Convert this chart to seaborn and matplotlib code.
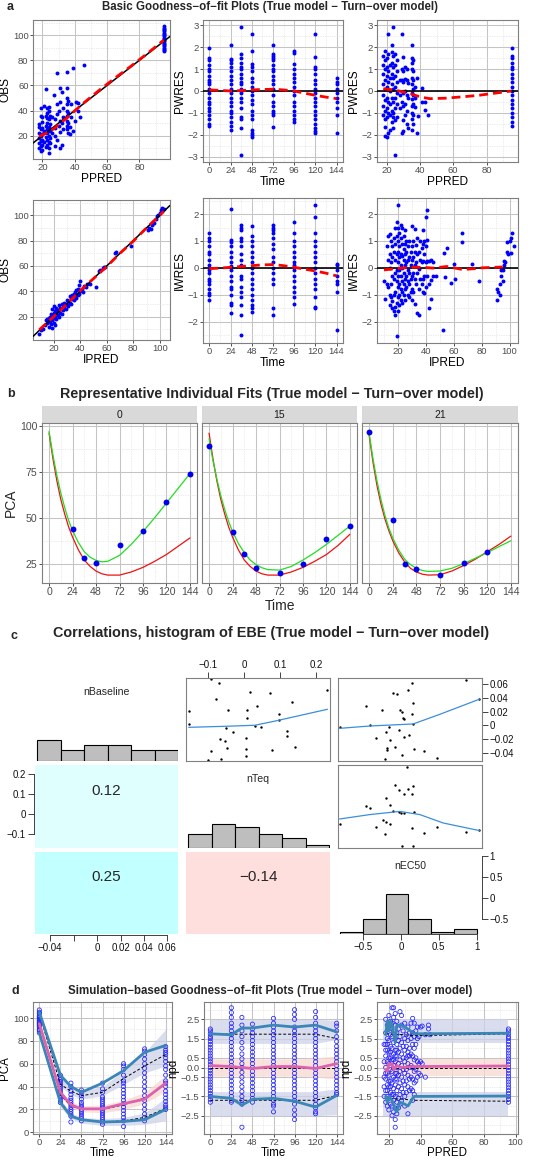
import numpy as np
import matplotlib
matplotlib.use("Agg")
import matplotlib.pyplot as plt
import seaborn as sns

# ---------------- DATA ----------------
# Panel a1: OBS vs PPRED
a1_ppred = [18,19,20,21,22,23,24,25,26,27,28,29,30,31,32,33,35,36,37,38,39,40,41,42,43,46,95]
a1_obs = [[10,14,18,22,27,29],[8,12,16,20,25,36,42],[9,13,17,21,26,31,35],[15,24,44],
          [11,19,28,36,57],[13,17,22,25,30,34,38,42],[6,10,15,20,27,33,40,43],[14,18,24,29,36],
          [22,35],[52],[12,20,26,33],[17,37,45,70],[28,40],[10,23,32,47,58],[13,30,55],[25,35,42],
          [25,28,32,36,40,45,50,58,71],[22,30,38,48],[21,27],[35,45],[24,74],[32],[47],[40,46],[35],[76],
          [87,88,89,90,91,92,93,94,95,96,97,98,99,100,101,102,103,104,105,106,107]]
a1_loess_x = [18,25,35,45,55,65,75,85,95]
a1_loess_y = [19.5,23.5,34,45.5,56,66,75.5,85.5,96]

# Panel a2: PWRES vs Time
times = [0,24,36,48,72,96,120,144]
a2_pwres = [[1.95,1.5,1.4,1.2,1.0,0.9,0.7,0.5,0.4,0.3,0.1,-0.1,-0.3,-0.5,-0.6,-0.8,-0.9,-1.1,-1.3,-1.5,-1.6],
            [2.1,1.45,1.4,1.3,1.1,0.9,0.7,0.5,0.3,0.1,-0.1,-0.3,-0.5,-0.7,-0.9,-1.0,-1.2,-1.4,-1.6,-1.8],
            [2.95,1.7,1.5,1.3,1.1,1.0,0.8,0.6,0.4,0.3,0.1,0,-0.1,-0.3,-0.5,-0.8,-1.2,-1.3,-1.7,-2.95],
            [2.6,1.85,1.25,1.1,0.9,0.6,0.4,0.2,0,-0.2,-0.4,-0.6,-0.9,-1.1,-1.3,-1.8,-1.9,-2.0,-2.1],
            [2.1,1.7,1.6,1.5,1.4,1.2,1.0,0.9,0.7,0.5,0.3,0.1,-0.2,-0.5,-0.7,-0.9,-1.0,-1.1,-1.65],
            [1.85,1.75,1.25,1.0,0.8,0.6,0.4,0.2,0,-0.2,-0.5,-0.7,-0.9,-1.1,-1.3,-1.4],
            [2.6,1.55,1.1,1.0,0.8,0.5,0.3,0.1,-0.1,-0.3,-0.5,-0.7,-0.9,-1.1,-1.3,-1.5,-1.7,-1.85,-1.9],
            [0.6,0.4,0.3,0.1,-0.1,-0.3,-0.5,-0.8,-1.1,-1.9]]
a2_loess_x = [0,12,24,36,48,60,72,84,96,108,120,132,144]
a2_loess_y = [0.05,0.03,0,0.02,0.05,0.07,0.08,0.05,0,-0.1,-0.2,-0.28,-0.35]

# Panel a3: PWRES vs PPRED
a3_ppred = [18,19,20,21,22,23,24,25,26,28,29,30,31,32,33,35,36,37,38,39,41,43,45,95]
a3_pwres = [[1.6,1.2,0.8,0.3,-0.2,-0.7,-1.1],[1.85,1.4,1.0,0.5,0.1,-0.4,-0.9,-1.3,-1.65,-2.05],
            [1.5,1.1,0.7,0.2,-0.3,-0.8,-1.2,-2.1],[2.6,1.7,0.9,0.4,-0.5,-1.0,-1.9],[1.2,0.6,0,-0.6,-1.1,-1.8],
            [2.1,1.8,1.3,0.8,0.3,-0.3,-0.9,-1.4],[2.95,1.6,1.1,0.6,0.1,-0.5,-1.0,-1.2,-1.7],
            [1.7,1.2,0.7,0.2,-0.3,-0.8,-1.35,-2.95],[1.4,0.9,0.4,-0.1,-0.6,-1.2],[0.5,-0.2,-0.8],
            [2.6,1.0,0.5,-0.5,-1.9],[1.55,0.9,0.4,-0.1,-0.7,-1.35,-1.85],[1.1,0.55,0,-0.6,-1.1],
            [1.0,0.5,-0.2,-0.9,-1.5],[0.35,-0.3,-1.7],[2.1,1.5,1.3,1.0,0.6,0.3,-0.1,-0.35,-0.7,-1.0,-1.3,-1.8],
            [1.4,0.9,0.5,0.1,-0.2,-0.6,-1.1,-1.5],[0.2,-0.3,-0.75],[0.6,-1.9],[-1.15],[0.15,-0.5],
            [-0.5,-0.85],[-1.1],
            [1.95,1.6,1.5,1.3,1.1,1.0,0.8,0.6,0.4,0.2,0,-0.2,-0.4,-0.6,-0.8,-1.0,-1.2,-1.4,-1.6]]
a3_loess_x = [18,22,26,30,34,38,42,46,55,65,75,85,95]
a3_loess_y = [0.1,0.07,0.03,-0.05,-0.12,-0.22,-0.3,-0.35,-0.33,-0.27,-0.2,-0.1,0]

# Panel a4: OBS vs IPRED
a4_ipred = [9,10,12,13,14,15,15,16,16,17,17,18,18,18,19,19,19,19,20,20,20,20,21,21,21,22,22,22,23,23,
            24,24,24,25,25,26,26,26,27,27,28,28,29,29,30,30,31,31,32,32,33,33,34,34,35,35,36,36,37,37,
            38,38,39,39,40,40,41,42,43,44,45,47,52,54,55,57,58,59,66,67,78,91,92,93,94,95,96,97,98,99,
            100,101,102,103]
a4_obs = [6,9,10,13,17,15,18,12,19,16,20,14,18,22,11,17,21,26,15,19,23,28,13,20,24,18,22,27,21,25,
          20,24,29,23,27,22,26,30,25,29,27,31,26,30,29,33,28,32,31,36,30,35,34,37,33,38,36,39,35,41,
          37,42,38,45,40,48,42,39,44,43,46,46,43,56,57,58,59,59,70,71,76,88,90,89,92,95,94,97,99,100,
          102,104,106,105]
a4_loess_x = [9,20,30,40,50,60,70,80,90,103]
a4_loess_y = [9.5,20,30,40.5,50,59.5,70,79.5,90,103]

# Panel a5: IWRES vs Time
a5_iwres = [[1.3,1.1,1.0,0.8,0.6,0.5,0.3,0.1,-0.1,-0.2,-0.4,-0.5,-0.6,-0.8,-0.95,-1.0,-1.2],
            [2.2,1.05,0.95,0.8,0.6,0.4,0.2,0.05,-0.1,-0.3,-0.5,-0.7,-0.8,-1.0,-1.3,-1.4,-1.7],
            [1.6,1.5,1.4,1.1,1.0,0.8,0.5,0.3,0.1,-0.3,-0.4,-0.7,-0.9,-1.1,-1.4,-1.75,-2.5],
            [1.55,1.2,1.0,0.8,0.6,0.4,0.2,0,-0.2,-0.4,-0.6,-0.8,-1.0,-1.2,-1.4,-1.5,-1.65],
            [1.6,1.5,1.4,1.3,1.1,0.9,0.7,0.4,0.2,0,-0.2,-0.4,-0.6,-1.5,-1.75],
            [1.7,1.3,1.0,0.8,0.6,0.4,0.2,0.1,-0.1,-0.3,-0.5,-0.7,-0.9,-1.1,-1.35],
            [2.35,1.9,1.3,1.0,0.8,0.6,0.4,0.2,0,-0.2,-0.4,-0.6,-0.8,-1.1,-1.45,-1.5],
            [0.15,0.1,-0.1,-0.3,-0.5,-0.6,-0.9,-2.3]]
a5_loess_x = [0,12,24,36,48,60,72,84,96,108,120,132,144]
a5_loess_y = [-0.03,-0.01,0.02,0.05,0.08,0.11,0.12,0.08,0.02,-0.05,-0.12,-0.2,-0.3]

# Panel a6: IWRES vs IPRED
a6_ipred = [10,11,12,13,14,15,16,17,18,19,20,21,22,23,24,25,26,27,28,29,30,31,32,33,34,35,36,37,38,39,
            40,41,42,44,45,47,52,53,54,55,58,60,61,66,73,78,91,92,93,94,95,96,97,98,99,100,101,102,103]
a6_iwres = [[-0.5],[-1.15],[0.8,-0.6],[1.2,0.3,-0.7],[1.25,0.5,0,-1.0,-1.4],[1.0,0.2,-0.6,-1.1],
            [0.8,0.4,-0.3,-1.25,-1.5],[1.1,0.6,-0.4,-1.0,-1.6],[1.5,0.9,0.3,-0.2,-0.9,-1.45,-1.75],
            [1.7,1.2,0.5,-0.1,-0.5,-1.3,-2.55],[2.35,1.5,1.0,0.6,0.2,-0.3,-0.7,-1.1,-1.6],
            [1.3,0.8,0.4,-0.1,-0.6,-1.0,-1.4],[1.6,1.1,0.5,0.1,-0.3,-0.8,-1.2],[1.5,0.9,0.45,0,-0.5,-0.9,-1.3],
            [1.2,0.7,0.3,-0.2,-0.6,-1.0],[1.4,0.9,0.5,0.1,-0.4,-0.8,-1.2],[1.0,0.6,0.2,-0.3,-0.7],
            [0.8,0.3,-0.1,-0.5,-1.0],[1.0,0.4,-0.2,-0.6,-1.1],[0.6,0.1,-0.4,-0.9],[1.55,0.8,0.3,-0.3,-0.8,-1.2],
            [1.0,0.4,-0.2,-0.9],[1.45,0.6,0.1,-0.4,-1.35],[0.85,0.2,-0.6],[1.1,0.5,-0.2,-1.7],
            [0.6,-0.05,-0.8,-1.75],[1.0,0.3,-0.4],[0.75,0.2,-0.6],[1.4,0.9,0.25,-0.4,-0.9],[1.0,0.5,-0.3,-0.95],
            [1.9,0.8,0.2,-0.7],[2.15,1.05,0.25,-0.3],[0.25,-0.6,-1.5],[0.3,-0.45,-1.15],[-0.3,0.2],[-0.3],
            [-2.3],[0.55],[-0.35],[0.75],[-0.55],[0.15],[-0.4],[1.3,0.97],[0.15],[-0.5],[-0.8,-1.2],[-0.9],
            [-1.0,-0.6],[-0.3,-0.1],[-0.5,-0.1],[0.25,0.1],[0.2],[0.6,0.95],[0.5],[1.0],[0.55,1.1],[1.3],[0.8]]
a6_loess_x = [10,15,20,25,30,35,40,45,50,55,60,65,70,75,80,85,90,95]
a6_loess_y = [-0.08,-0.05,-0.02,0.0,0.02,0.02,0.01,-0.01,0.02,0.05,0.0,-0.05,-0.05,-0.03,0,0.01,0.02,0.03]

# Panel b: individual fits
facets = ["0", "15", "21"]
b_times = [0,4,8,12,16,20,24,30,36,42,48,54,60,72,84,96,108,120,132,144]
b_ipred = [[97,84,73,63.5,55.5,48.5,43,36.5,31.5,28.5,26.8,26,26.3,29.5,35.5,42.5,50,58,66,74],
           [93,81,71,62,54.5,48,42.5,36,31,27,24.5,22.8,21.8,21.5,23.5,27,31,35.5,40.5,45.5],
           [96,82,70,60,51.5,44.5,39,32.5,27.5,24.5,22.5,21.3,20.8,21,22.5,25,28,31,34.3,37.5]]
b_ppred = [[96,82,70,60,52,45,39.5,32.5,27,23.5,21,19.5,18.8,18.8,20.5,23,26.3,30,34.5,39],
           [96,82,70,60,52,45,39.5,32.5,27,23.5,21,19.5,18.8,18.8,20.5,23,26.3,30,35,41],
           [95,80,67.5,57.5,49.5,43,37.5,31,26,22.5,20.5,19.3,18.8,19,21,24,27.5,31.5,35.5,40]]
b_obs_t = [[24,36,48,72,96,120,144],[0,24,36,48,72,96,120,144],[0,24,36,48,72,96,120]]
b_obs = [[44,28,25.5,35,43,58.5,74],[89,42,30,22.5,20,25,38.5,45.5],[96.5,49,25,22,19,25.5,31.5]]

# Panel c: pairs of EBEs
nB_teq_x = [-0.0936,-0.0709,-0.0773,0.0164,0.0718,0.2309,0.1336,-0.1545,-0.0455,0.0064,0.0355,0.0082,0.0973,0.0973,
            -0.1545,-0.0518,-0.0309,0.03,0.0455,0.1191,0.1182,-0.0682,-0.0527,0.0036,-0.0482,0.0045,0.0755,0.14,
            -0.0927,-0.0655,-0.1,0.0055]
nB_teq_y = [0.067,0.0616,0.0378,0.0482,0.0472,0.0521,0.0338,0.0204,0.0219,0.0224,0.0288,0.011,0.0164,0.0085,
            0.002,-0.0034,-0.0094,-0.0004,-0.0024,-0.0084,-0.0153,-0.0198,-0.0222,-0.0178,-0.0332,-0.0351,-0.0366,
            -0.0322,-0.0381,-0.0485,-0.05,-0.0441]
nB_teq_lo_x = [-0.1545,-0.0527,0.0291,0.0836,0.2309]
nB_teq_lo_y = [-0.0029,-0.0014,0.0001,0.006,0.0234]
nB_ec_x = [-0.80,-0.465,-0.412,-0.244,-0.323,-0.156,-0.103,-0.05,-0.015,0.016,0.03,0.043,0.091,0.149,0.162,
           0.149,0.162,-0.2,-0.138,-0.028,0.038,0.109,-0.182,-0.182,-0.081,0.016,0.175,0.308,0.471,-0.213,0.855,1.036]
nB_ec_y = [-0.0024,0.0283,0,0.022,-0.019,-0.002,0.0478,0.0463,0.022,0.0195,0.0102,0.0088,0.0512,0.061,0.0332,
           0.0161,0.0024,-0.0093,-0.0215,-0.0073,-0.017,-0.0146,-0.0337,-0.0361,-0.0312,-0.0434,-0.0342,-0.0376,
           -0.0473,-0.0488,0.0664,0.0381]
nB_ec_lo_x = [-0.809,-0.412,0.162,0.515,1.036]
nB_ec_lo_y = [-0.0044,-0.001,0.002,0.0161,0.0381]
nT_ec_x = [0.083,-0.081,-0.028,0.043,0.096,0.149,0.162,-0.191,-0.147,-0.465,-0.412,-0.103,-0.028,0.003,0.043,
           0.175,-0.235,-0.191,-0.147,-0.323,-0.213,0.149,0.308,0.471,0.855,1.036,-0.809,0.021,0.162]
nT_ec_y = [0.234,0.146,0.121,0.101,0.124,0.101,0.138,0.08,0.046,0.041,0.032,0.017,0.008,0.005,0.007,0.008,
           -0.032,-0.04,-0.05,-0.066,-0.098,-0.07,-0.095,-0.065,-0.091,-0.078,-0.048,-0.158,-0.158]
nT_ec_lo_x = [-0.809,-0.412,-0.015,0.25,0.559,1.036]
nT_ec_lo_y = [-0.025,-0.003,0.013,-0.003,-0.045,-0.083]
hist_nB_edges = [-0.051,-0.031,-0.011,0.009,0.029,0.049,0.069]
hist_nB_height = [4,2,3,3,2,2]
hist_nT_edges = [-0.156,-0.09,-0.025,0.04,0.105,0.17,0.235]
hist_nT_height = [4,7,6,4,3,1]
hist_nE_edges = [-0.8,-0.5,-0.2,0.1,0.4,0.7,1.0]
hist_nE_height = [1,6,16,6,1,2]
corr_labels = ["0.12", "0.25", "\u22120.14"]
corr_colors = ["#DFFFFF", "#C2FFFF", "#FFDEDE"]

# Panel d1: VPC PCA vs Time
d1_pca = [[87,89,90,92,93,94,95,96,97,98,99,100,101,102,104,105,107],
          [26,28,30,32,34,36,38,40,42,44,46,48,50],
          [9,14,16,18,20,22,24,26,28,30,33,36,40,43],
          [10,12,14,16,18,20,22,24,26,29,32,35,37],
          [7,9,11,13,15,17,19,21,23,25,27,29,31,35,38,43],
          [5,10,13,16,19,22,25,28,31,34,37,40,43,45,50,55,58,60],
          [10,13,16,20,24,28,32,36,40,44,48,52,56,60,64,68,71,73],
          [20,22,24,27,30,33,36,40,43,45,50,55,58,62,65,68,70,72,75]]
d1_obs_hi = [105,50,40,35,43,54,70,76]
d1_obs_med = [95,35,24,20.5,20.5,25,29,43]
d1_obs_lo = [87,26,14,11,9,9.5,11,20]
d1_sim_hi = [104,42,36,32,35,47,58,68]
d1_sim_med = [95,33,23,20,20,24,30,42]
d1_sim_lo = [88,27,15,11,9,10,13,21]
d1_band_hi_lo = [100,40,33,29,32,42,52,58]
d1_band_hi_hi = [108,50,41,37,40,54,70,90]
d1_band_med_lo = [92,30,22,18,17,20,25,36]
d1_band_med_hi = [98,36,27,23,24,28,35,50]
d1_band_lo_lo = [84,22,12,8,6,6,7,10]
d1_band_lo_hi = [90,29,17,13,12,13,17,30]

# Panel d2: npd vs Time
d2_npd = [[2.0,1.9,1.75,1.6,1.5,1.35,1.2,1.05,0.9,0.75,0.6,0.45,0.3,0.15,0.0,-0.15,-0.3,-0.45,-0.6,-0.75,-0.9,-1.05,-1.2,-1.35,-1.5,-1.65,-1.8],
          [3.1,2.85,2.6,2.3,2.1,1.9,1.7,1.5,1.3,1.1,0.9,0.7,0.5,0.3,0.1,-0.1,-0.3,-0.5,-0.7,-0.9,-1.1,-1.3,-1.5,-1.7,-1.8],
          [2.6,2.2,1.9,1.6,1.3,1.0,0.7,0.45,0.2,0,-0.25,-0.5,-0.75,-1.0,-1.25,-1.5,-1.7,-1.9,-3.1],
          [2.25,2.0,1.8,1.6,1.4,1.2,1.0,0.8,0.6,0.4,0.2,0,-0.2,-0.4,-0.6,-0.8,-1.0,-1.2,-1.4,-1.6,-1.8],
          [2.55,2.3,2.1,1.9,1.7,1.5,1.3,1.1,0.9,0.7,0.5,0.3,0.1,-0.1,-0.3,-0.5,-0.7,-0.9,-1.1,-1.3,-1.5,-1.7,-1.9,-2.0,-2.3],
          [3.0,2.75,2.5,2.1,1.9,1.7,1.5,1.3,1.1,0.9,0.7,0.5,0.3,0.1,-0.1,-0.3,-0.5,-0.7,-0.9,-1.1,-1.3,-1.5,-1.7,-1.9,-2.2,-2.45,-2.7],
          [2.9,2.6,2.3,2.1,1.9,1.7,1.5,1.3,1.1,0.9,0.7,0.5,0.3,0.1,-0.1,-0.3,-0.5,-0.7,-0.9,-1.1,-1.3,-1.5,-1.7,-1.9,-2.1,-2.3,-2.4],
          [2.3,2.15,1.9,1.6,1.35,1.1,0.9,0.7,0.5,0.3,0.1,-0.1,-0.3,-0.5,-0.7,-0.9,-1.1,-1.3,-1.4]]
d2_obs_hi = [1.75,1.7,2.05,2.05,2.2,2.1,2.2,1.85]
d2_obs_med = [0.1,0.05,0,-0.05,0.05,0.05,-0.05,0.2]
d2_obs_lo = [-1.5,-1.6,-1.95,-1.65,-1.6,-1.75,-2.05,-1.45]
d2_sim_hi = [1.73,1.73,1.73,1.73,1.73,1.73,1.73,1.5]
d2_sim_med = [0,0,0,0,0,0,0,0]
d2_sim_lo = [-1.7,-1.7,-1.7,-1.7,-1.7,-1.7,-1.7,-1.45]
d2_band_hi = [[1.25,1.25,1.25,1.25,1.25,1.25,1.25,1.45],[2.5,2.5,2.5,2.5,2.5,2.5,2.5,2.45]]
d2_band_med = [[-0.45,-0.45,-0.45,-0.45,-0.45,-0.45,-0.5,-0.6],[0.45,0.45,0.45,0.45,0.45,0.45,0.5,0.6]]
d2_band_lo = [[-2.5,-2.5,-2.5,-2.5,-2.5,-2.5,-2.5,-2.45],[-1.25,-1.25,-1.25,-1.25,-1.25,-1.25,-1.25,-1.1]]

# Panel d3: npd vs PPRED
d3_ppred = [17,18,19,20,21,22,23,24,25,26,27,28,29,30,31,32,33,34,35,36,37,38,39,40,41,43,45,46]
d3_npd = [[-0.5,-1.0,0.3,1.2,-1.5],[2.5,1.8,1.2,0.6,0,-0.6,-1.2,-1.8,-0.3,0.9],
          [2.2,1.5,0.9,0.3,-0.3,-0.9,-1.5,-2.0,1.2,-1.2],[2.7,2.0,1.4,0.8,0.2,-0.4,-1.0,-1.6,-2.2,0.5,-0.7],
          [2.4,1.7,1.1,0.5,-0.1,-0.7,-1.3,-1.9,0.8,-1.0],[3.1,2.3,1.6,1.0,0.4,-0.2,-0.8,-1.4,-2.0,-2.5],
          [3.1,2.6,1.9,1.3,0.7,0.1,-0.5,-1.1,-1.7,-2.3,-1.4,0.4],[2.8,2.2,1.5,0.9,0.3,-0.3,-0.9,-1.5,-2.1,-2.7,-3.1,0.6,-0.6],
          [2.4,1.8,1.2,0.6,0,-0.6,-1.2,-1.8,-2.4,0.9,-0.3],[2.0,1.4,0.8,0.2,-0.4,-1.0,-1.6,-2.1],
          [2.9,1.6,1.0,0.4,-0.2,-0.8,-1.4,-1.9],[2.7,2.2,1.3,0.7,0.1,-0.5,-1.1,-1.7],[1.9,1.1,0.5,-0.1,-0.7,-1.3],
          [2.3,1.5,0.9,0.3,-0.3,-0.9,-1.5,-2.0],[1.7,1.1,0.5,-0.1,-0.7,-1.3],[2.1,1.4,0.8,0.6,0.2,-0.4,-1.0,-2.4],
          [1.8,1.0,0.6,0.0,-0.6,-1.2],[2.3,1.5,0.7,0.1,-0.5,-1.1],[2.55,1.8,1.2,0.6,0,-0.6,-1.2,-1.7],
          [2.3,1.6,1.0,0.4,-0.2,-0.8,-1.4],[1.9,1.2,0.5,-0.1,-0.7],[2.1,1.5,0.3,-0.5],[1.6,0.2,-0.3],
          [2.1,0.3,-0.4],[2.15,0.2],[1.7,-0.5],[2.2,2.0],[1.7]]
d3_base_ppred = 95.5
d3_obs_hi_x = [18,19,20,21,22,24,25,28,32,36,95.5]
d3_obs_hi_y = [1.7,2.4,1.9,2.4,2.2,1.3,2.2,2.2,2.0,1.75,1.78]
d3_obs_med_x = [18,19,20,21,22,23,25,28,35,95.5]
d3_obs_med_y = [-0.1,-0.2,0.2,0.15,0.2,-0.1,0.1,0,0.05,0.08]
d3_obs_lo_x = [18,19,20,22,24,25,27,30,32,35,36,95.5]
d3_obs_lo_y = [-1.5,-1.8,-1.5,-1.7,-2.2,-2.3,-1.8,-1.9,-2.0,-1.6,-1.5,-1.48]
d3_sim_x = [18,30,35,95.5]
d3_sim_hi = [1.75,1.7,1.65,1.75]
d3_sim_lo = [-1.6,-1.65,-1.7,-1.75]
d3_band_x = [16,95.5]

# ---------------- STYLE / LAYOUT ----------------
sns.set_theme(style="white")
plt.rcParams['font.family'] = ['Liberation Sans', 'DejaVu Sans']
plt.rcParams['axes.unicode_minus'] = True

W, H = 533, 1160
fig = plt.figure(figsize=(W / 100, H / 100), dpi=100)
fig.patch.set_facecolor('white')

MINUS = "\u2212"


def lab(v):
    s = f"{v:g}"
    return s.replace("-", MINUS)


def pax(x0, y0, x1, y1):
    return fig.add_axes([x0 / W, 1 - y1 / H, (x1 - x0) / W, (y1 - y0) / H])


def gg(ax, xlim, ylim, xmaj, ymaj, xmin=None, ymin=None, fs=6.8, ylabels=True, yfmt=None):
    ax.set_facecolor('white')
    ax.set_xlim(xlim)
    ax.set_ylim(ylim)
    ax.set_xticks(xmaj)
    ax.set_xticklabels([lab(v) for v in xmaj])
    ax.set_yticks(ymaj)
    if ylabels:
        ax.set_yticklabels([yfmt(v) if yfmt else lab(v) for v in ymaj])
    else:
        ax.set_yticklabels([])
    if xmin is not None:
        ax.set_xticks(xmin, minor=True)
    if ymin is not None:
        ax.set_yticks(ymin, minor=True)
    ax.grid(True, which='major', color='#c4c4c4', lw=0.75)
    ax.grid(True, which='minor', color='#d9d9d9', lw=0.5, ls=(0, (1, 1.5)))
    ax.set_axisbelow(True)
    for s in ax.spines.values():
        s.set_color('#7f7f7f')
        s.set_linewidth(0.8)
    ax.tick_params(which='major', bottom=True, left=ylabels, length=2, width=0.6, color='#333333',
                   labelsize=fs, labelcolor='#4d4d4d', pad=1.2)
    ax.tick_params(which='minor', length=0)


def expand(xs, groups):
    X, Y = [], []
    for x, g in zip(xs, groups):
        X += [x] * len(g)
        Y += list(g)
    return np.array(X, float), np.array(Y, float)


BLUE = '#0000FF'
RED = '#FF0000'


def pts(ax, x, y):
    sns.scatterplot(x=x, y=y, ax=ax, color=BLUE, s=8, linewidth=0, legend=False, zorder=3)


def redloess(ax, x, y):
    sns.lineplot(x=x, y=y, ax=ax, color=RED, lw=2.0, estimator=None, sort=False, zorder=5,
                 dashes=False).lines[-1].set_dashes((3.2, 1.8))


def labels(ax, xl, yl, fs=8.6, xpad=0.5):
    ax.set_xlabel(xl, fontsize=fs, labelpad=xpad, color='black')
    ax.set_ylabel(yl, fontsize=fs, labelpad=1.0, color='black')


# ---------------- PANEL A ----------------
fig.text(7 / W, 1 - 7 / H, "a", fontsize=9, fontweight='bold', va='center', ha='left')
fig.text(270 / W, 1 - 7 / H, "Basic Goodness\u2212of\u2212fit Plots (True model \u2212 Turn\u2212over model)",
         fontsize=8.3, fontweight='bold', va='center', ha='center')

ticks_t = [0, 24, 48, 72, 96, 120, 144]
minor_t = [12, 36, 60, 84, 108, 132]

ax = pax(33, 20, 170, 159)
gg(ax, (14.2, 98.9), (1.5, 112), [20, 40, 60, 80], [20, 40, 60, 80, 100], [30, 50, 70, 90], [10, 30, 50, 70, 90, 110])
x, y = expand(a1_ppred, a1_obs)
pts(ax, x, y)
ax.axline((0, 0), slope=1, color='black', lw=1.1, zorder=4)
redloess(ax, a1_loess_x, a1_loess_y)
labels(ax, "PPRED", "OBS")

ax = pax(203, 20, 343, 162)
gg(ax, (-7.2, 151.2), (-3.25, 3.25), ticks_t, [-3, -2, -1, 0, 1, 2, 3], minor_t, [-2.5, -1.5, -0.5, 0.5, 1.5, 2.5])
x, y = expand(times, a2_pwres)
pts(ax, x, y)
ax.axhline(0, color='black', lw=1.2, zorder=4)
redloess(ax, a2_loess_x, a2_loess_y)
labels(ax, "Time", "PWRES")

ax = pax(377, 20, 518, 162)
gg(ax, (14.2, 98.9), (-3.25, 3.25), [20, 40, 60, 80], [-3, -2, -1, 0, 1, 2, 3], [30, 50, 70, 90], [-2.5, -1.5, -0.5, 0.5, 1.5, 2.5])
x, y = expand(a3_ppred, a3_pwres)
pts(ax, x, y)
ax.axhline(0, color='black', lw=1.2, zorder=4)
redloess(ax, a3_loess_x, a3_loess_y)
labels(ax, "PPRED", "PWRES")

ax = pax(33, 200, 170, 340)
gg(ax, (4.3, 107.7), (1.5, 112), [20, 40, 60, 80, 100], [20, 40, 60, 80, 100], [10, 30, 50, 70, 90], [10, 30, 50, 70, 90, 110])
pts(ax, a4_ipred, a4_obs)
ax.axline((0, 0), slope=1, color='black', lw=1.1, zorder=4)
redloess(ax, a4_loess_x, a4_loess_y)
labels(ax, "IPRED", "OBS")

ax = pax(203, 198, 343, 343)
gg(ax, (-7.2, 151.2), (-2.8, 2.6), ticks_t, [-2, -1, 0, 1, 2], minor_t, [-2.5, -1.5, -0.5, 0.5, 1.5, 2.5])
x, y = expand(times, a5_iwres)
pts(ax, x, y)
ax.axhline(0, color='black', lw=1.2, zorder=4)
redloess(ax, a5_loess_x, a5_loess_y)
labels(ax, "Time", "IWRES")

ax = pax(377, 198, 518, 343)
gg(ax, (5, 106), (-2.8, 2.6), [20, 40, 60, 80, 100], [-2, -1, 0, 1, 2], [10, 30, 50, 70, 90], [-2.5, -1.5, -0.5, 0.5, 1.5, 2.5])
x, y = expand(a6_ipred, a6_iwres)
pts(ax, x, y)
ax.axhline(0, color='black', lw=1.2, zorder=4)
redloess(ax, a6_loess_x, a6_loess_y)
labels(ax, "IPRED", "IWRES")

# ---------------- PANEL B ----------------
fig.text(7 / W, 1 - 394 / H, "b", fontsize=9, fontweight='bold', va='center', ha='left')
fig.text(272 / W, 1 - 394 / H, "Representative Individual Fits (True model \u2212 Turn\u2212over model)",
         fontsize=10.3, fontweight='bold', va='center', ha='center')
bx = [(42, 197), (202, 357), (362, 518)]
for i, (x0, x1) in enumerate(bx):
    st = pax(x0, 406, x1, 423)
    st.set_facecolor('#d9d9d9')
    st.set_xticks([]); st.set_yticks([])
    for s in st.spines.values():
        s.set_visible(False)
    st.text(0.5, 0.5, facets[i], fontsize=7.5, color='#1a1a1a', ha='center', va='center', transform=st.transAxes)
    ax = pax(x0, 423, x1, 583)
    gg(ax, (-7.2, 151.2), (14.5, 101.5), ticks_t, [25, 50, 75, 100], minor_t, [37.5, 62.5, 87.5],
       fs=7.6, ylabels=(i == 0))
    sns.lineplot(x=b_times, y=b_ppred[i], ax=ax, color='#EE1111', lw=0.9, estimator=None, sort=False, zorder=3)
    sns.lineplot(x=b_times, y=b_ipred[i], ax=ax, color='#22DD22', lw=0.9, estimator=None, sort=False, zorder=4)
    sns.scatterplot(x=b_obs_t[i], y=b_obs[i], ax=ax, color='#0000EE', s=18, linewidth=0, zorder=5, legend=False)
    ax.set_xlabel(""); ax.set_ylabel("")
fig.text(11 / W, 1 - 503 / H, "PCA", fontsize=10, rotation=90, va='center', ha='center')
fig.text(280 / W, 1 - 606 / H, "Time", fontsize=10, va='center', ha='center')

# ---------------- PANEL C ----------------
fig.text(10 / W, 1 - 636 / H, "c", fontsize=9, fontweight='bold', va='center', ha='left')
fig.text(271 / W, 1 - 633 / H, "Correlations, histogram of EBE (True model \u2212 Turn\u2212over model)",
         fontsize=10.4, fontweight='bold', va='center', ha='center')
cols = [(35, 178), (186, 330), (338, 482)]
rows = [(678, 761), (765, 848), (852, 934)]
rng_x = [(-0.053, 0.069), (-0.162, 0.238), (-0.83, 1.07)]
rng_y = [(-0.052, 0.069), (-0.17, 0.245), (-0.857, 1.095)]
LOESS = '#3A8EDB'
PFS = 7


def cell(r, c):
    a = pax(cols[c][0], rows[r][0], cols[c][1], rows[r][1])
    a.set_xlim(rng_x[c]); a.set_ylim(rng_y[r])
    a.set_xticks([]); a.set_yticks([])
    a.grid(False)
    a.set_facecolor('none')
    for s in a.spines.values():
        s.set_visible(False)
    return a


def boxed(a):
    for s in a.spines.values():
        s.set_visible(True); s.set_color('#808080'); s.set_linewidth(0.8)


def rtick(a):
    a.tick_params(which='major', length=4, width=0.6, color='#222222', labelsize=PFS,
                  labelcolor='#111111', pad=1.5)


# scatter cells
a01 = cell(0, 1); boxed(a01)
sns.scatterplot(x=nB_teq_x, y=nB_teq_y, ax=a01, color='black', s=3, linewidth=0, legend=False)
sns.lineplot(x=nB_teq_lo_x, y=nB_teq_lo_y, ax=a01, color=LOESS, lw=0.9, estimator=None, sort=False)
a01.set_xticks([-0.1, 0, 0.1, 0.2]); a01.set_xticklabels([lab(v) for v in [-0.1, 0, 0.1, 0.2]])
a01.xaxis.tick_top(); a01.tick_params(top=True, bottom=False); rtick(a01)

a02 = cell(0, 2); boxed(a02)
sns.scatterplot(x=nB_ec_x, y=nB_ec_y, ax=a02, color='black', s=3, linewidth=0, legend=False)
sns.lineplot(x=nB_ec_lo_x, y=nB_ec_lo_y, ax=a02, color=LOESS, lw=0.9, estimator=None, sort=False)
yt = [-0.04, -0.02, 0, 0.02, 0.04, 0.06]
a02.set_yticks(yt); a02.set_yticklabels([lab(v) for v in yt])
a02.yaxis.tick_right(); a02.tick_params(right=True, left=False); rtick(a02)

a12 = cell(1, 2); boxed(a12)
sns.scatterplot(x=nT_ec_x, y=nT_ec_y, ax=a12, color='black', s=3, linewidth=0, legend=False)
sns.lineplot(x=nT_ec_lo_x, y=nT_ec_lo_y, ax=a12, color=LOESS, lw=0.9, estimator=None, sort=False)

# diagonal
names = ["nBaseline", "nTeq", "nEC50"]
edges = [hist_nB_edges, hist_nT_edges, hist_nE_edges]
heights = [hist_nB_height, hist_nT_height, hist_nE_height]
tops = [15.8, 24.2, 32.8]
for k in range(3):
    a = cell(k, k)
    a.set_ylim(0, tops[k])
    e = np.array(edges[k])
    a.bar(e[:-1], heights[k], width=np.diff(e), align='edge', color='#bebebe', edgecolor='black', lw=0.8)
    a.text(0.5, 0.83, names[k], fontsize=7.6, ha='center', va='center', transform=a.transAxes)
    if k == 2:
        xt = [-0.5, 0, 0.5, 1]
        a.set_xticks(xt); a.set_xticklabels([lab(v) for v in xt])
        a.tick_params(bottom=True); rtick(a)
        a.spines['bottom'].set_visible(True); a.spines['bottom'].set_bounds(-0.5, 1)
        a.spines['bottom'].set_color('#222222'); a.spines['bottom'].set_linewidth(0.6)
        tw = a.twinx()
        tw.set_ylim(rng_y[2]); tw.grid(False)
        for s in tw.spines.values():
            s.set_visible(False)
        tw.spines['right'].set_visible(True); tw.spines['right'].set_bounds(-0.5, 1)
        tw.spines['right'].set_color('#222222'); tw.spines['right'].set_linewidth(0.6)
        tw.set_yticks(xt); tw.set_yticklabels([lab(v) for v in xt])
        tw.tick_params(right=True); rtick(tw)

# correlation cells
a10 = cell(1, 0); a10.set_facecolor(corr_colors[0])
a10.text(0.5, 0.69, corr_labels[0], fontsize=11, ha='center', va='center', transform=a10.transAxes)
yt = [-0.1, 0, 0.1, 0.2]
a10.set_yticks(yt); a10.set_yticklabels([lab(v) for v in yt]); a10.tick_params(left=True); rtick(a10)
a10.spines['left'].set_visible(True); a10.spines['left'].set_bounds(-0.1, 0.2)
a10.spines['left'].set_color('#222222'); a10.spines['left'].set_linewidth(0.6)
a10.spines['left'].set_position(('outward', 1))

a20 = cell(2, 0); a20.set_facecolor(corr_colors[1])
a20.text(0.5, 0.70, corr_labels[1], fontsize=11, ha='center', va='center', transform=a20.transAxes)
xt = [-0.04, -0.02, 0, 0.02, 0.04, 0.06]
a20.set_xticks(xt); a20.set_xticklabels([lab(v) if v != -0.02 else "" for v in xt])
a20.tick_params(bottom=True); rtick(a20)
a20.spines['bottom'].set_visible(True); a20.spines['bottom'].set_bounds(-0.04, 0.06)
a20.spines['bottom'].set_color('#222222'); a20.spines['bottom'].set_linewidth(0.6)
a20.spines['bottom'].set_position(('outward', 1))

a21 = cell(2, 1); a21.set_facecolor(corr_colors[2])
a21.text(0.5, 0.70, corr_labels[2], fontsize=11, ha='center', va='center', transform=a21.transAxes)

# ---------------- PANEL D ----------------
fig.text(12 / W, 1 - 991 / H, "d", fontsize=9, fontweight='bold', va='center', ha='left')
fig.text(270 / W, 1 - 991 / H, "Simulation\u2212based Goodness\u2212of\u2212fit Plots (True model \u2212 Turn\u2212over model)",
         fontsize=8.3, fontweight='bold', va='center', ha='center')
BAND_B = '#CDD2E8'
BAND_P = '#F8D9D0'
LBLUE = '#3A86B6'
LPINK = '#DD62AE'
DY0, DY1 = 1002, 1134


def hollow(ax, x, y):
    sns.scatterplot(x=x, y=y, ax=ax, s=9, facecolor='none', edgecolor='#2020ff', linewidth=0.55,
                    legend=False, zorder=3)


def obsline(ax, x, y, c):
    sns.lineplot(x=x, y=y, ax=ax, color=c, lw=2.0, estimator=None, sort=False, zorder=6)


def simline(ax, x, y):
    sns.lineplot(x=x, y=y, ax=ax, color='black', lw=0.7, estimator=None, sort=False, zorder=5).lines[-1].set_dashes((3, 2))


ax = pax(33, DY0, 172, DY1)
gg(ax, (-7.2, 151.2), (-1.5, 114), ticks_t, [0, 20, 40, 60, 80, 100], minor_t, [10, 30, 50, 70, 90, 110])
ax.fill_between(times, d1_band_hi_lo, d1_band_hi_hi, color=BAND_B, alpha=0.75, lw=0, zorder=1)
ax.fill_between(times, d1_band_lo_lo, d1_band_lo_hi, color=BAND_B, alpha=0.75, lw=0, zorder=1)
ax.fill_between(times, d1_band_med_lo, d1_band_med_hi, color=BAND_P, alpha=0.75, lw=0, zorder=1)
x, y = expand(times, d1_pca)
hollow(ax, x, y)
simline(ax, times, d1_sim_hi); simline(ax, times, d1_sim_med); simline(ax, times, d1_sim_lo)
obsline(ax, times, d1_obs_hi, LBLUE); obsline(ax, times, d1_obs_lo, LBLUE); obsline(ax, times, d1_obs_med, LPINK)
labels(ax, "Time", "PCA", fs=8.3, xpad=0)

npd_ticks = [-2.5, -1.5, -0.5, 0.0, 0.5, 1.5, 2.5]
fmt1 = lambda v: f"{v:.1f}".replace("-", MINUS)

ax = pax(204, DY0, 343, DY1)
gg(ax, (-7.2, 151.2), (-3.45, 3.4), ticks_t, npd_ticks, minor_t, [-3, -2, -1, 1, 2, 3], yfmt=fmt1)
ax.fill_between(times, d2_band_hi[0], d2_band_hi[1], color=BAND_B, alpha=0.75, lw=0, zorder=1)
ax.fill_between(times, d2_band_lo[0], d2_band_lo[1], color=BAND_B, alpha=0.75, lw=0, zorder=1)
ax.fill_between(times, d2_band_med[0], d2_band_med[1], color=BAND_P, alpha=0.75, lw=0, zorder=1)
x, y = expand(times, d2_npd)
hollow(ax, x, y)
simline(ax, times, d2_sim_hi); simline(ax, times, d2_sim_med); simline(ax, times, d2_sim_lo)
obsline(ax, times, d2_obs_hi, LBLUE); obsline(ax, times, d2_obs_lo, LBLUE); obsline(ax, times, d2_obs_med, LPINK)
labels(ax, "Time", "npd", fs=8.3, xpad=0)

ax = pax(377, DY0, 518, DY1)
gg(ax, (12.5, 101.5), (-3.45, 3.4), [20, 40, 60, 80, 100], npd_ticks, [30, 50, 70, 90], [-3, -2, -1, 1, 2, 3], yfmt=fmt1)
ax.fill_between(d3_band_x, [1.25, 1.25], [2.5, 2.5], color=BAND_B, alpha=0.75, lw=0, zorder=1)
ax.fill_between(d3_band_x, [-2.5, -2.5], [-1.25, -1.25], color=BAND_B, alpha=0.75, lw=0, zorder=1)
ax.fill_between(d3_band_x, [-0.45, -0.45], [0.45, 0.45], color=BAND_P, alpha=0.75, lw=0, zorder=1)
x, y = expand(d3_ppred, d3_npd)
hollow(ax, x, y)
hollow(ax, [d3_base_ppred] * len(d2_npd[0]), d2_npd[0])
simline(ax, d3_sim_x, d3_sim_hi); simline(ax, d3_sim_x, [0, 0, 0, 0]); simline(ax, d3_sim_x, d3_sim_lo)
obsline(ax, d3_obs_hi_x, d3_obs_hi_y, LBLUE); obsline(ax, d3_obs_lo_x, d3_obs_lo_y, LBLUE)
obsline(ax, d3_obs_med_x, d3_obs_med_y, LPINK)
labels(ax, "PPRED", "npd", fs=8.3, xpad=0)

fig.savefig("out.png", dpi=100, facecolor='white')
